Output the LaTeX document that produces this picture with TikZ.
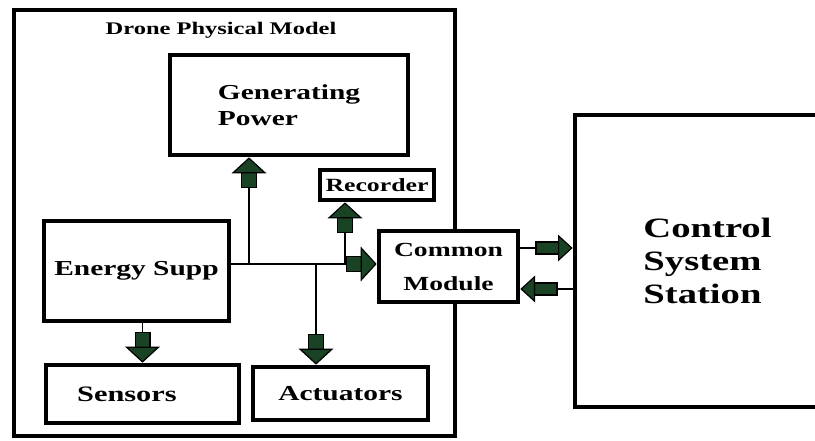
\documentclass[tikz,border=0pt]{standalone}
\usepackage{fontspec}
\newfontfamily\wideserif{Liberation Serif}[FakeStretch=1.38]
\usetikzlibrary{arrows.meta}
\definecolor{tipgreen}{RGB}{26,66,36}

\begin{document}
\begin{tikzpicture}[x=0.75pt, y=-0.75pt,
    every node/.style={font=\wideserif\bfseries, align=center},
    fs/.style 2 args={font=\wideserif\bfseries\fontsize{#1}{#2}\selectfont},
    frame/.style={draw, rectangle, line width=3.5pt, inner sep=0pt},
    blk/.style={draw, rectangle, fill=white, line width=3.5pt, inner sep=2pt},
    conn/.style={line width=0.9pt},
    fat/.style={conn, -{Rectangle[width=12pt,length=13pt,sep=-2pt,fill=tipgreen]Triangle[width=26pt,length=12pt,sep=0pt,fill=tipgreen]}},
    slim/.style={conn, -{Rectangle[width=10pt,length=19pt,sep=-2pt,fill=tipgreen]Triangle[width=20pt,length=11pt,sep=0pt,fill=tipgreen]}}
]
\clip (0,0) rectangle (815,440);
\fill[white] (0,0) rectangle (815,440);

\node[frame, minimum width=330.75pt, minimum height=319.5pt] (drone) at (234.5,223) {};
\node[fs={13.3}{15}] (title) at (221,30) {Drone Physical Model};

\node[blk, fs={16}{19.5}, align=left, minimum width=178.5pt, minimum height=75pt] (gen) at (289,105) {Generating\\Power};
\node[blk, fs={14}{16}, minimum width=85.5pt, minimum height=22.5pt] (rec) at (377,185) {Recorder};
\node[blk, fs={16}{19}, minimum width=138.75pt, minimum height=75pt] (esupp) at (136.5,271) {Energy Supp};
\node[blk, fs={16.5}{19}, text width=98pt, align=left, minimum width=144.75pt, minimum height=43.5pt] (sen) at (142.5,394) {Sensors};
\node[blk, fs={16}{19}, minimum width=131.25pt, minimum height=39.75pt] (act) at (340.5,393.5) {Actuators};
\node[blk, fs={15}{25.5}, minimum width=104.25pt, minimum height=53.25pt] (cm) at (448.5,266.5) {Common\\Module};
\node[blk, fs={21}{25}, align=left, minimum width=198.75pt, minimum height=219pt] (ctrl) at (707.5,261) {Control\\System\\Station};

\coordinate (jgen) at (249,264);
\coordinate (jact) at (316,264);
\coordinate (jrec) at (345,264);
\coordinate (txline) at (0,248);
\coordinate (rxline) at (0,289);

\draw[fat] (esupp.east |- jgen) -- (cm.west |- jgen);
\draw[fat] (jgen) -- (gen.south -| jgen);
\draw[fat] (jrec) -- (rec.south -| jrec);
\draw[fat] (jact) -- (act.north -| jact);
\draw[fat] (esupp.south -| sen.north) -- (sen.north);
\draw[slim] (cm.east |- txline) -- (ctrl.west |- txline);
\draw[slim] (ctrl.west |- rxline) -- (cm.east |- rxline);
\end{tikzpicture}
\end{document}
